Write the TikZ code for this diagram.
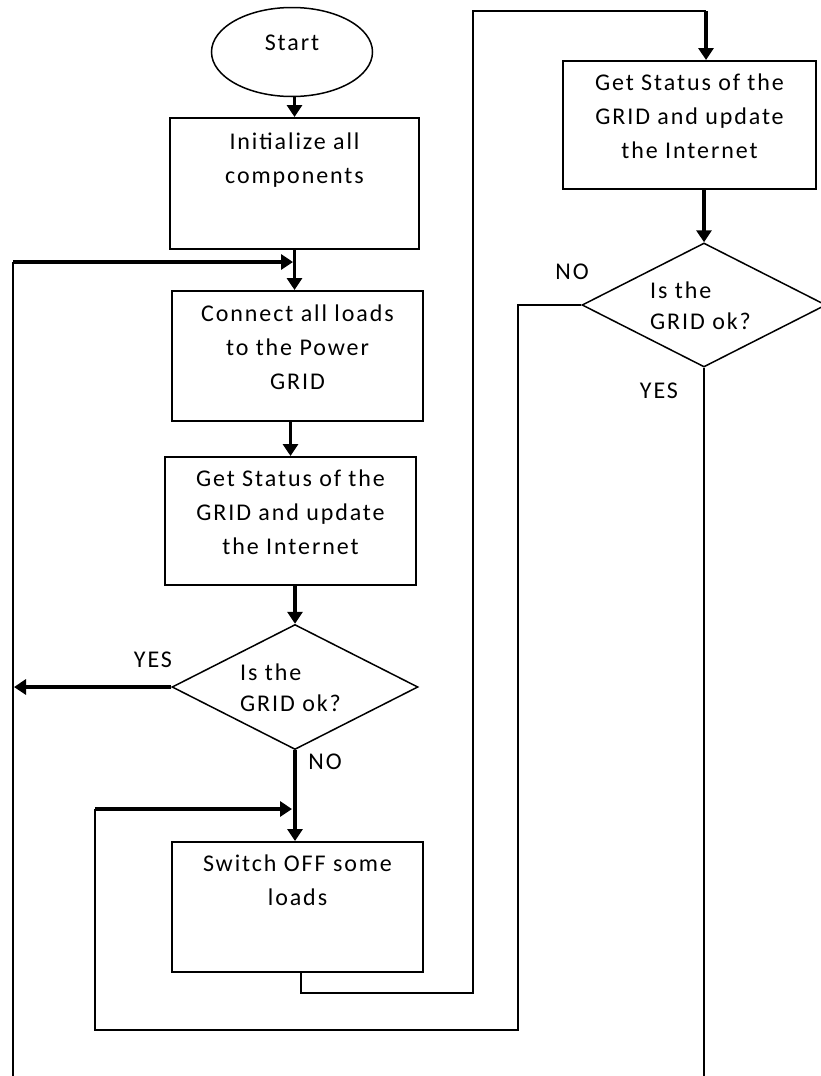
\documentclass[tikz,border=0pt]{standalone}
\usepackage{fontspec}
\setmainfont{Carlito}[LetterSpace=8]
\usetikzlibrary{shapes.geometric,arrows.meta}
\begin{document}
\begin{tikzpicture}[x=1pt,y=-1pt,
  every node/.style={font=\fontsize{24}{34}\selectfont, text=black},
  box/.style={draw, line width=2pt, inner sep=0pt},
  dec/.style={draw, diamond, line width=1.5pt, inner sep=0pt},
  txt/.style={align=center, inner sep=0pt, anchor=north},
  dtxt/.style={align=left, inner sep=0pt, anchor=west, font=\fontsize{24}{31}\selectfont},
  lbl/.style={inner sep=0pt},
  flow/.style={line width=3.3pt, -{Triangle[width=15pt,length=12pt]}},
  back/.style={line width=2pt}
]
\useasboundingbox (0,0) rectangle (820,1076);

% shapes
\node[draw, ellipse, line width=1.5pt, minimum width=161pt, minimum height=89pt, inner sep=0pt,
      label={[yshift=9pt, inner sep=0pt]center:Start}] (start) at (292,52) {};
\node[box, minimum width=249pt, minimum height=131pt] (init) at (294.5,183.5) {};
\node[box, minimum width=251pt, minimum height=130pt] (conn) at (297.5,356) {};
\node[box, minimum width=251pt, minimum height=128pt] (gs1) at (290.5,521) {};
\node[dec, minimum width=246pt, minimum height=125pt] (d1) at (295,687) {};
\node[box, minimum width=251pt, minimum height=130pt] (sw) at (297.5,907) {};
\node[box, minimum width=253pt, minimum height=128pt] (gs2) at (689.5,125) {};
\node[dec, minimum width=244pt, minimum height=124pt] (d2) at (704,305) {};

% texts
\node[txt] (tinit) at ([yshift=-16pt]init.north) {Initialize all\\components};
\node[txt] (tconn) at ([yshift=-15pt]conn.north) {Connect all loads\\to the Power\\GRID};
\node[txt] (tgs1) at ([yshift=-14pt]gs1.north) {Get Status of the\\GRID and update\\the Internet};
\node[txt] (tsw) at ([yshift=-14pt]sw.north) {Switch OFF some\\loads};
\node[txt] (tgs2) at ([yshift=-14pt]gs2.north) {Get Status of the\\GRID and update\\the Internet};
\node[dtxt] (td1) at ([xshift=-55pt,yshift=-1pt]d1.center) {Is the\\GRID ok?};
\node[dtxt] (td2) at ([xshift=-54pt,yshift=-1pt]d2.center) {Is the\\GRID ok?};

% labels
\node[lbl] (yes1) at (153,660) {YES};
\node[lbl] (no1) at (325,762) {NO};
\node[lbl] (no2) at (572,272) {NO};
\node[lbl] (yes2) at (659,391) {YES};

% coordinates for loops
\coordinate (lb) at (13,1076);
\coordinate (lt) at (13,262);
\coordinate (jt) at (293,262);
\coordinate (c1) at (301,993);
\coordinate (c2) at (473,993);
\coordinate (c3) at (473,11);
\coordinate (c4) at (706,11);
\coordinate (n1) at (518,1030);
\coordinate (n2) at (95,1030);
\coordinate (n3) at (95,809);
\coordinate (n4) at (292,809);
\coordinate (yb) at (706,1076);

% main flow
\draw[flow] (start.south -| init.north) -- (init.north);
\draw[flow] (init.south) -- (init.south |- conn.north);
\draw[flow] (conn.south -| gs1.north) -- (gs1.north);
\draw[flow] (gs1.south -| d1.north) -- (d1.north);
\draw[flow] (d1.south) -- (d1.south |- sw.north);
\draw[flow] (gs2.south -| d2.north) -- (d2.north);

% left loop (YES of first decision)
\draw[back] (lb) -- (lt);
\draw[flow] (lt) -- (jt);
\draw[flow] (d1.west) -- ([xshift=1pt]d1.west -| lt);

% switch off -> right column
\draw[back] (sw.south -| c1) -- (c1) -- (c2) -- (c3) -- (c4);
\draw[flow] (c4) -- (c4 |- gs2.north);

% NO of second decision
\draw[back] (d2.west) -- (d2.west -| n1) -- (n1) -- (n2) -- (n3);
\draw[flow] (n3) -- (n4);

% YES of second decision
\draw[back] (d2.south) -- (d2.south |- yb);
\end{tikzpicture}
\end{document}
